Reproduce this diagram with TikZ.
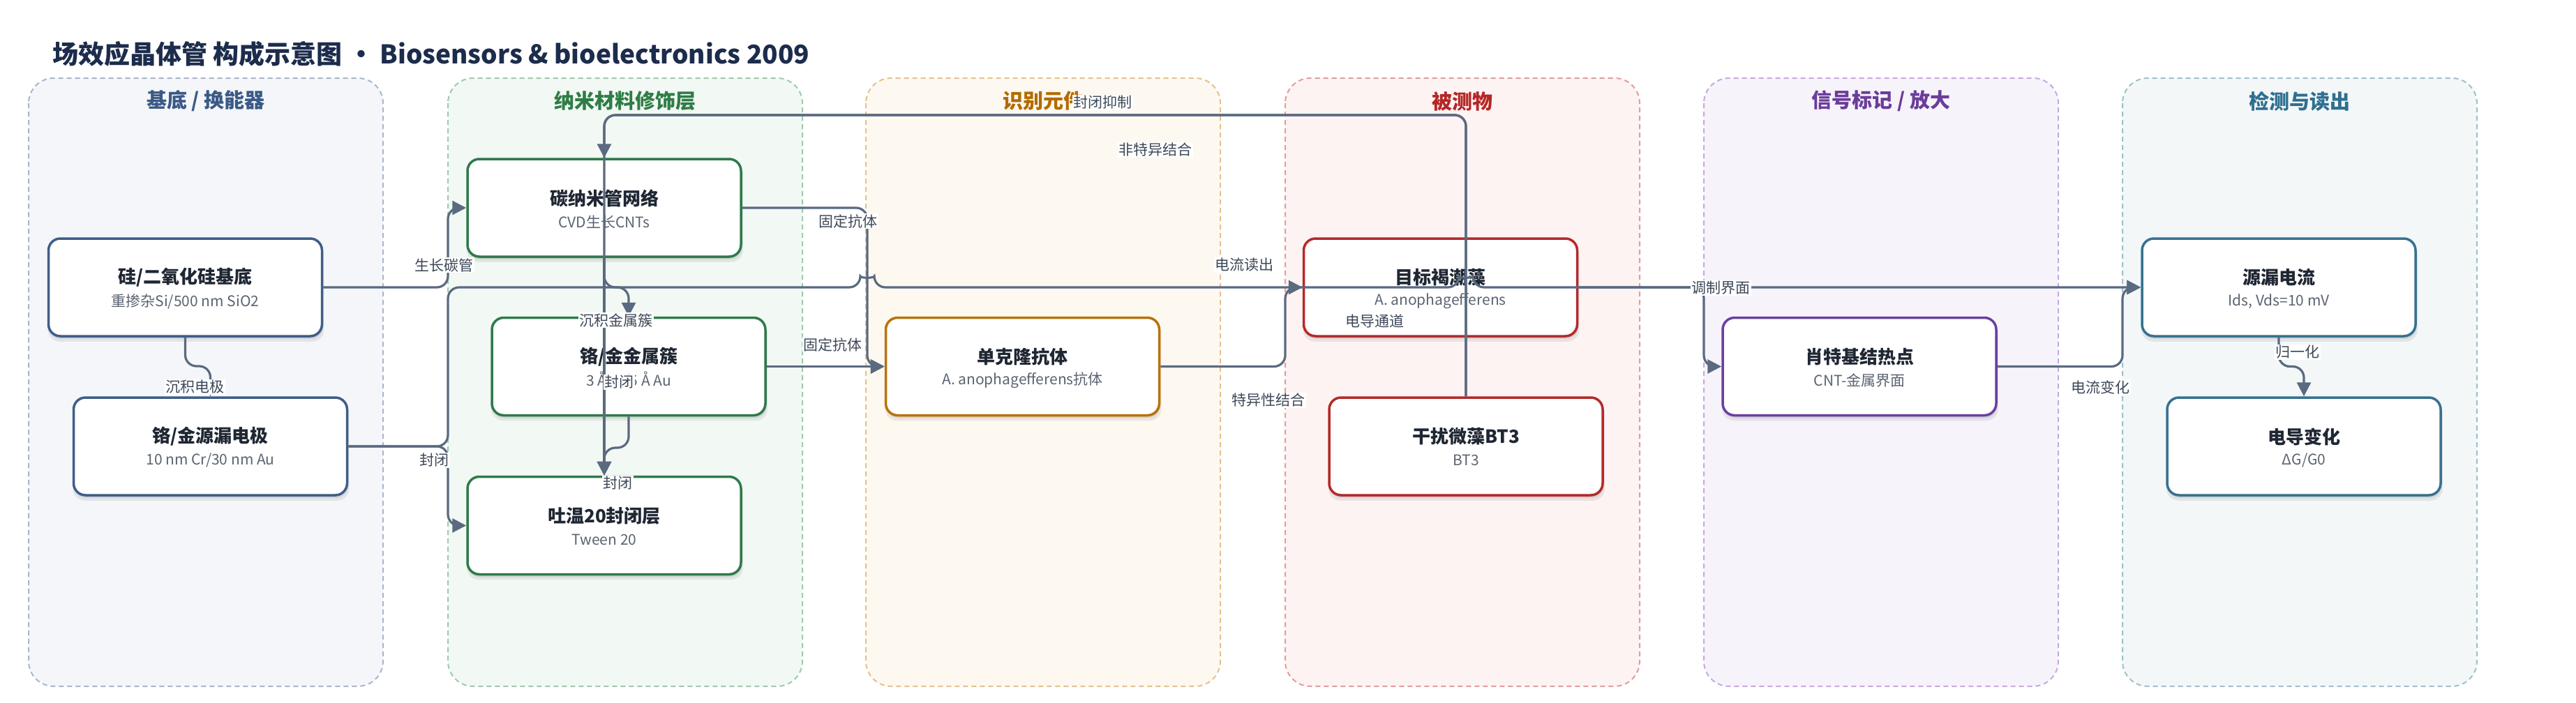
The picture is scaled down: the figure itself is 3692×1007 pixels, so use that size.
\documentclass[tikz,border=0pt]{standalone}
\usepackage{fontspec}
\setmainfont{Noto Sans CJK SC}
\usetikzlibrary{arrows.meta,shadows}

\definecolor{edgec}{HTML}{5A6A80}
\definecolor{titlec}{HTML}{1C2C4C}
\definecolor{ttlc}{HTML}{1F2733}
\definecolor{subc}{HTML}{5B6472}
\definecolor{lblc}{HTML}{3D4858}
% lanes
\definecolor{fillA}{HTML}{F4F6FA}\definecolor{bordA}{HTML}{A9B6CA}\definecolor{headA}{HTML}{3B5A86}\definecolor{nodeA}{HTML}{3F5E88}
\definecolor{fillB}{HTML}{F2F8F4}\definecolor{bordB}{HTML}{9FCAAD}\definecolor{headB}{HTML}{2E7D46}\definecolor{nodeB}{HTML}{2F7A4A}
\definecolor{fillC}{HTML}{FDF8F0}\definecolor{bordC}{HTML}{E5C28C}\definecolor{headC}{HTML}{B36B00}\definecolor{nodeC}{HTML}{B8720C}
\definecolor{fillD}{HTML}{FDF3F3}\definecolor{bordD}{HTML}{E49C9C}\definecolor{headD}{HTML}{B52626}\definecolor{nodeD}{HTML}{B42A2A}
\definecolor{fillE}{HTML}{F7F3FB}\definecolor{bordE}{HTML}{C8A8E2}\definecolor{headE}{HTML}{6A3D9A}\definecolor{nodeE}{HTML}{6B3FA0}
\definecolor{fillF}{HTML}{F3F7F8}\definecolor{bordF}{HTML}{9EC0CC}\definecolor{headF}{HTML}{2F6F8F}\definecolor{nodeF}{HTML}{37718F}

\tikzset{
  lanebox/.style={line width=2pt, dash pattern=on 7pt off 5pt, rounded corners=36pt},
  lanehead/.style={font=\fontsize{29}{33}\selectfont\bfseries, inner sep=0pt},
  card/.style={rounded corners=17pt, line width=3.5pt, fill=white,
    minimum width=392pt, minimum height=140pt, inner sep=0pt,
    general shadow={shadow yshift=-7pt, shadow xshift=1pt, opacity=0.07, fill=black, shadow scale=1.01},
    drop shadow={shadow yshift=-4pt, shadow xshift=1pt, opacity=0.08, fill=black}},
  cardttl/.style={font=\fontsize{26}{30}\selectfont\bfseries, text=ttlc, inner sep=0pt},
  cardsub/.style={font=\fontsize{21}{25}\selectfont, text=subc, inner sep=0pt},
  conn/.style={draw=edgec, line width=3.2pt, rounded corners=16pt, -{Triangle[length=20pt,width=20pt]}},
  elabel/.style={font=\fontsize{21}{25}\selectfont, text=lblc, fill=white, inner sep=1.5pt}
}

\newcommand{\mkcard}[6]{%
  \node[card, draw=#4] (#1) at (#2,#3) {};
  \node[cardttl] (#1-t) at ([yshift=14pt]#1.center) {#5};
  \node[cardsub] (#1-s) at ([yshift=-20pt]#1.center) {#6};
}

\begin{document}
\begin{tikzpicture}[x=1pt,y=-1pt]
\useasboundingbox (0,0) rectangle (3692,1007);
\fill[white] (0,0) rectangle (3692,1007);

% title
\node[anchor=west, inner sep=0pt, text=titlec, font=\fontsize{37}{43}\selectfont\bfseries] (title) at (75,77)
  {场效应晶体管 构成示意图 · Biosensors \& bioelectronics 2009};

% lanes
\foreach \k/\x/\t in {A/41/{基底 / 换能器},B/642/{纳米材料修饰层},C/1241/{识别元件},D/1842/{被测物},E/2442/{信号标记 / 放大},F/3042/{检测与读出}}{
  \draw[lanebox, fill=fill\k, draw=bord\k] (\x,112) rectangle ++(508,872);
  \node[lanehead, text=head\k] (lane\k) at (\x+254,145) {\t};
}

% cards
\mkcard{sub}{265.5}{412}{nodeA}{硅/二氧化硅基底}{重掺杂Si/500 nm SiO2}
\mkcard{ele}{301.5}{640}{nodeA}{铬/金源漏电极}{10 nm Cr/30 nm Au}
\mkcard{cnt}{866}{298}{nodeB}{碳纳米管网络}{CVD生长CNTs}
\mkcard{mc}{901}{525.5}{nodeB}{铬/金金属簇}{3 Å Cr/5 Å Au}
\mkcard{tw}{866}{753.5}{nodeB}{吐温20封闭层}{Tween 20}
\mkcard{ab}{1465.5}{525.5}{nodeC}{单克隆抗体}{A. anophagefferens抗体}
\mkcard{tg}{2064.5}{412}{nodeD}{目标褐潮藻}{A. anophagefferens}
\mkcard{bt}{2101}{640}{nodeD}{干扰微藻BT3}{BT3}
\mkcard{sk}{2665}{525.5}{nodeE}{肖特基结热点}{CNT-金属界面}
\mkcard{cur}{3266}{412}{nodeF}{源漏电流}{Ids, Vds=10 mV}
\mkcard{cd}{3302}{640}{nodeF}{电导变化}{ΔG/G0}

% connectors
\draw[conn] (sub.east) -- (642,412) |- (cnt.west);
\draw[conn] (sub.south) -- (265.5,525) -| (ele.north);
\draw[conn] (ele.east) -- (642,640) |- (tw.west);
\draw[conn] (ele.east) -- (642,640) -- (642,412) -- (1233,412)
  .. controls (1233,399) and (1253,399) .. (1253,412) -- (2091,412)
  .. controls (2091,399) and (2111,399) .. (2111,412) -- (cur.west);
\draw[conn] (cnt.south) -- (866,412) -| (mc.north);
\draw[conn] (cnt.south) -- (tw.north);
\draw[conn] (cnt.east) -- (1243,298) |- (ab.west);
\draw[conn] (mc.east) -- (ab.west);
\draw[conn] (ab.east) -- (1842,525.5) |- (tg.west);
\draw[conn] (bt.north) -- (2101,165) -- (866,165) -- (tw.north);
\draw[conn] (bt.north) -- (2101,165) -- (866,165) -- (cnt.north);
\draw[conn] (mc.south) -- (901,642) -| (tw.north);
\draw[conn] (tg.east) -- (2442,412) |- (sk.west);
\draw[conn] (sk.east) -- (3042,525.5) |- (cur.west);
\draw[conn] (cur.south) -- (3266,525.5) -| (cd.north);

% connector labels
\node[elabel] (l1) at (636,380) {生长碳管};
\node[elabel] (l2) at (279,555) {沉积电极};
\node[elabel] (l3) at (622,660) {封闭};
\node[elabel] (l4) at (1783,380) {电流读出};
\node[elabel] (l5) at (883,459) {沉积金属簇};
\node[elabel] (l6) at (1215,317) {固定抗体};
\node[elabel] (l7) at (1193,494) {固定抗体};
\node[elabel] (l8) at (1818,574) {特异性结合};
\node[elabel] (l9) at (1580,147) {封闭抑制};
\node[elabel] (l10) at (1656,215) {非特异结合};
\node[elabel] (l11) at (887,548) {封闭};
\node[elabel] (l12) at (885,693) {封闭};
\node[elabel] (l13) at (2466,413) {调制界面};
\node[elabel] (l14) at (3010,555) {电流变化};
\node[elabel] (l15) at (3293,505) {归一化};
\node[elabel] (l16) at (1970,460) {电导通道};
\end{tikzpicture}
\end{document}
